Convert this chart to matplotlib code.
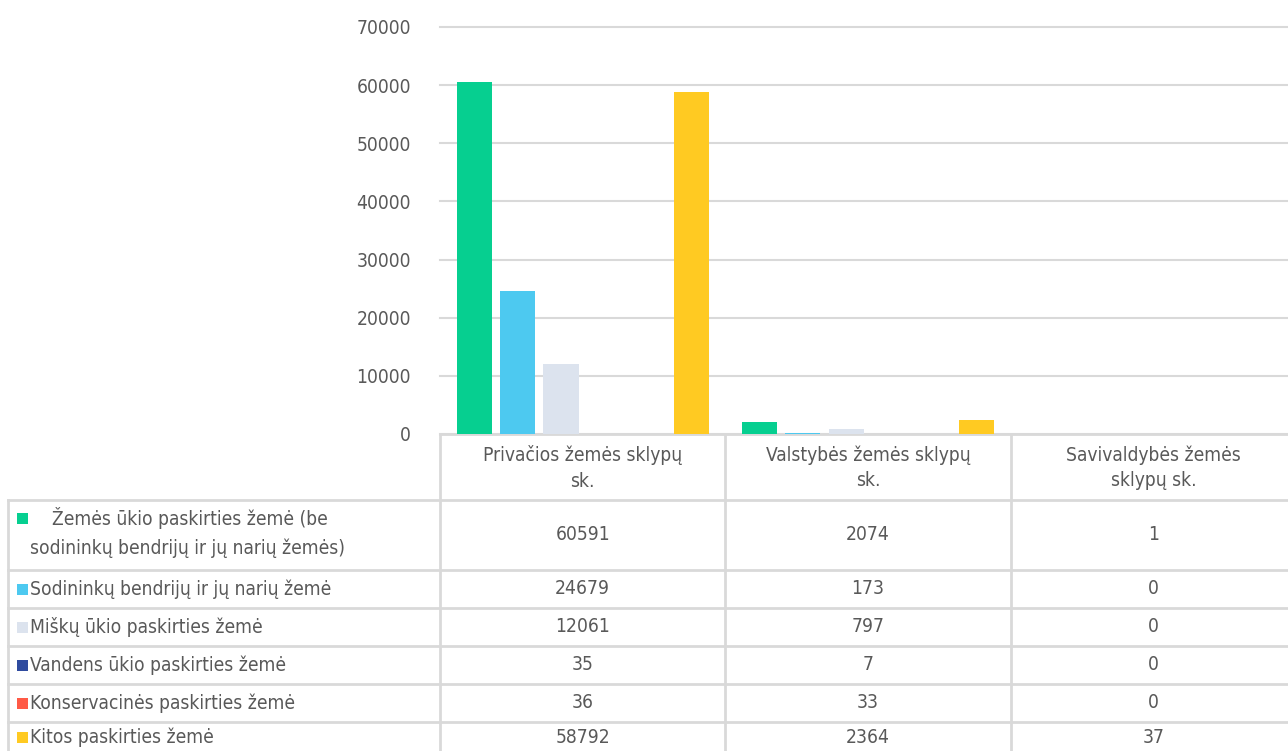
import matplotlib.pyplot as plt
import numpy as np
from matplotlib.patches import Rectangle

plt.rcParams['font.family'] = ['DejaVu Sans']
plt.rcParams['font.stretch'] = 'condensed'

categories = ['Privačios žemės sklypų\nsk.', 'Valstybės žemės sklypų\nsk.', 'Savivaldybės žemės\nsklypų sk.']
series_names = ['Žemės ūkio paskirties žemė (be\nsodininkų bendrijų ir jų narių žemės)',
                'Sodininkų bendrijų ir jų narių žemė',
                'Miškų ūkio paskirties žemė',
                'Vandens ūkio paskirties žemė',
                'Konservacinės paskirties žemė',
                'Kitos paskirties žemė']
zemes_ukio = [60591, 2074, 1]
sodininku = [24679, 173, 0]
misku = [12061, 797, 0]
vandens = [35, 7, 0]
konservacine = [36, 33, 0]
kitos = [58792, 2364, 37]
values = [zemes_ukio, sodininku, misku, vandens, konservacine, kitos]
colors = ['#06cf90', '#4dc9f0', '#dce3ee', '#2f4b9f', '#ff5a46', '#ffca22']
yticks = [0, 10000, 20000, 30000, 40000, 50000, 60000, 70000]

W, H = 1288, 751
txt = '#595959'
grid = '#d9d9d9'
fs = 13.8

fig = plt.figure(figsize=(W / 100, H / 100), dpi=100)

# pixel layout
left, right, top, base = 440, 1296, 27, 434
rows = [500, 570, 608, 646, 684, 722, 760]

# table layer (pixel coordinates)
tab = fig.add_axes([0, 0, 1, 1], zorder=0)
tab.set_xlim(0, W)
tab.set_ylim(H, 0)
tab.axis('off')

ax = fig.add_axes([left / W, 1 - base / H, (right - left) / W, (base - top) / H], zorder=1)
ax.patch.set_alpha(0)
x = np.arange(len(categories))
bw = 0.123
step = 0.152
for j, (vals, c) in enumerate(zip(values, colors)):
    ax.bar(x + (j - 2.5) * step, vals, bw, color=c, zorder=3)
ax.set_xlim(-0.5, 2.5)
ax.set_ylim(0, 70000)
ax.set_yticks(yticks)
ax.set_xticks([])
ax.grid(axis='y', color=grid, lw=1.5, zorder=0)
for gl in ax.get_ygridlines():
    gl.set_clip_on(False)
for s in ['top', 'right', 'left']:
    ax.spines[s].set_visible(False)
ax.spines['bottom'].set_color(grid)
ax.spines['bottom'].set_linewidth(2)
ax.tick_params(axis='y', length=0, pad=21, labelsize=fs, labelcolor=txt)

col_w = (right - left) / len(categories)
col_edges = [left + i * col_w for i in range(len(categories) + 1)]
col_centers = [left + (i + 0.5) * col_w for i in range(len(categories))]

# table lines
for y in rows[:-1]:
    tab.plot([8, W + 10], [y, y], color=grid, lw=2)
tab.plot([8, 8], [rows[0], H + 5], color=grid, lw=2)
for xe in col_edges[:-1]:
    tab.plot([xe, xe], [base, H + 5], color=grid, lw=2)

# header
for cx, cat in zip(col_centers, categories):
    tab.text(cx, (base + rows[0]) / 2 + 1, cat, ha='center', va='center', fontsize=fs,
             color=txt, linespacing=1.42)

# rows
for i, (name, vals, c) in enumerate(zip(series_names, values, colors)):
    y0, y1 = rows[i], rows[i + 1]
    yc = (y0 + y1) / 2 if i < 5 else (y0 + 751) / 2 + 1
    if i == 0:
        key_y = 518
        l1, l2 = name.split('\n')
        tab.text(52, 518, l1, ha='left', va='center', fontsize=fs, color=txt)
        tab.text(30, 548, l2, ha='left', va='center', fontsize=fs, color=txt)
    else:
        key_y = yc
        tab.text(30, yc, name, ha='left', va='center', fontsize=fs, color=txt)
    tab.add_patch(Rectangle((17, key_y - 5.5), 11, 11, color=c, lw=0))
    for cx, v in zip(col_centers, vals):
        tab.text(cx, yc, str(v), ha='center', va='center', fontsize=fs, color=txt)

fig.savefig('out.png', dpi=100)
